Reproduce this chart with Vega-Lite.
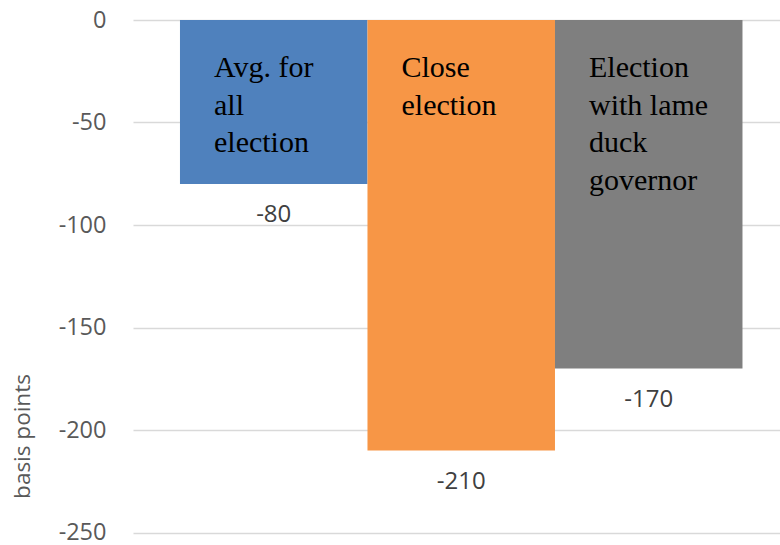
{
  "$schema": "https://vega.github.io/schema/vega-lite/v6.json",
  "autosize": "none",
  "width": 647,
  "height": 512.5,
  "padding": {"left": 133, "top": 20, "right": 0, "bottom": 12.5},
  "background": "white",
  "config": {"view": {"stroke": null}},
  "data": {
    "values": [
      {"cat": "Avg. for all election", "value": -80, "lines": ["Avg. for", "all", "election"], "color": "#4f81bd"},
      {"cat": "Close election", "value": -210, "lines": ["Close", "election"], "color": "#f79646"},
      {"cat": "Election with lame duck governor", "value": -170, "lines": ["Election", "with lame", "duck", "governor"], "color": "#7f7f7f"}
    ]
  },
  "encoding": {
    "x": {
      "field": "cat",
      "type": "nominal",
      "sort": null,
      "axis": null,
      "scale": {"paddingInner": 0, "paddingOuter": 0.2253, "align": 0.556}
    }
  },
  "layer": [
    {
      "mark": {"type": "bar"},
      "encoding": {
        "y": {
          "field": "value",
          "type": "quantitative",
          "scale": {"domain": [-250, 0], "nice": false},
          "axis": {
            "values": [0, -50, -100, -150, -200, -250],
            "labelExpr": "toString(datum.value)",
            "domain": false,
            "ticks": false,
            "labelPadding": 27,
            "labelFont": "Open Sans",
            "labelFontSize": 23.5,
            "labelColor": "#595959",
            "gridColor": "#d9d9d9",
            "gridWidth": 1.5,
            "title": "basis points",
            "titleFont": "Open Sans",
            "titleFontSize": 22.5,
            "titleFontWeight": "normal",
            "titleColor": "#595959",
            "titleX": -111,
            "titleY": 416,
            "titleAlign": "center",
            "titleBaseline": "middle",
            "titleAngle": -90
          }
        },
        "color": {"field": "color", "type": "nominal", "scale": null}
      }
    },
    {
      "mark": {
        "type": "text",
        "align": "left",
        "baseline": "alphabetic",
        "dx": 34,
        "dy": 57,
        "font": "Liberation Serif",
        "fontSize": 30,
        "lineHeight": 37.5,
        "color": "black"
      },
      "encoding": {
        "x": {"field": "cat", "type": "nominal", "sort": null, "bandPosition": 0},
        "y": {"datum": 0, "type": "quantitative"},
        "text": {"field": "lines"}
      }
    },
    {
      "mark": {
        "type": "text",
        "align": "center",
        "baseline": "alphabetic",
        "dy": 38,
        "font": "Open Sans",
        "fontSize": 24,
        "color": "#404040"
      },
      "encoding": {
        "y": {"field": "value", "type": "quantitative"},
        "text": {"field": "value", "type": "nominal"}
      }
    }
  ]
}
